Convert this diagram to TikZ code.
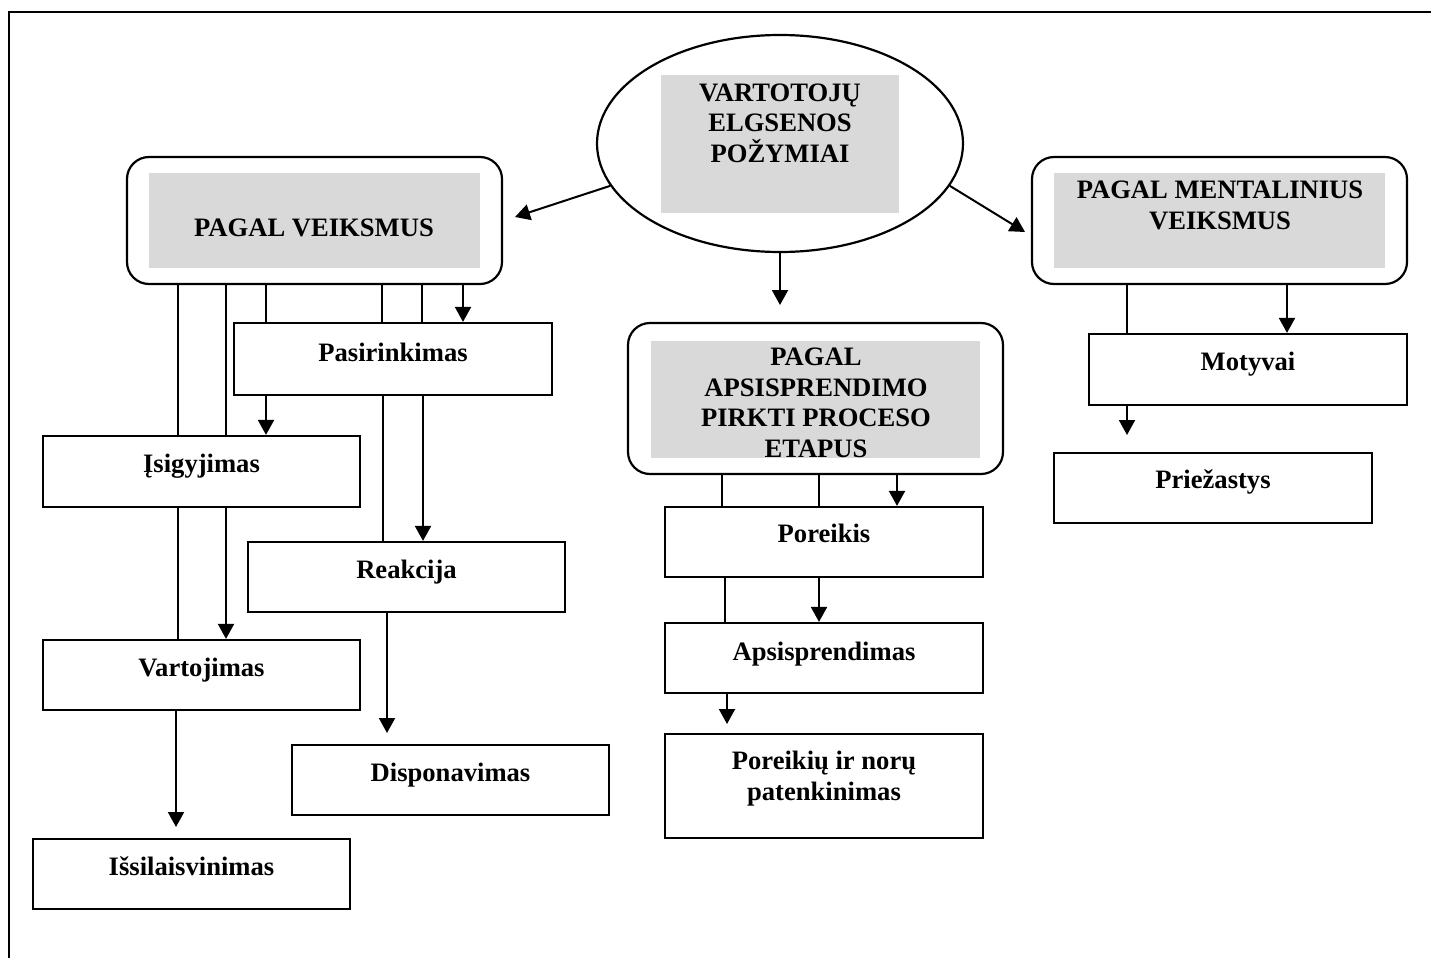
\documentclass[tikz,border=0pt]{standalone}
\usepackage{fontspec}
\setmainfont{Liberation Serif}
\usetikzlibrary{arrows.meta,shapes.geometric}
\definecolor{panelgray}{HTML}{D9D9D9}
\begin{document}
\begin{tikzpicture}[x=1pt,y=-1pt,
  conn/.style={line width=2pt},
  arr/.style={conn,-{Triangle[length=15pt,width=16pt]}},
  frame/.style={draw,line width=2.2pt,rectangle,inner sep=0pt},
  rframe/.style={frame,rounded corners=22pt},
  panel/.style={fill=panelgray},
  % for several lines, the base anchor sits on the last line
  lbl/.style={font=\bfseries\fontsize{26.6}{30.5}\selectfont,anchor=base,align=center,inner sep=0pt},
]
\useasboundingbox (0,0) rectangle (1431,958);
% page frame
\draw[line width=2.2pt] (1431,12) -- (9,12) -- (9,958);

% central ellipse
\node[ellipse,draw,line width=2.2pt,minimum width=366pt,minimum height=217pt,inner sep=0pt] (ell) at (780,143.5) {};
\fill[panel] (661,75) rectangle (899,213);
\node[lbl] (ellT) at (780,162) {VARTOTOJŲ\\ELGSENOS\\POŽYMIAI};

% three headings
\node[rframe,minimum width=375pt,minimum height=127pt] (pv) at (314.5,220.5) {};
\fill[panel] (149,173) rectangle (480,268);
\node[lbl] (pvT) at (314,236) {PAGAL VEIKSMUS};

\node[rframe,minimum width=375pt,minimum height=127pt] (ment) at (1219.5,220.5) {};
\fill[panel] (1054,173) rectangle (1385,268);
\node[lbl] (mentT) at (1220,229) {PAGAL MENTALINIUS\\VEIKSMUS};

\node[rframe,minimum width=375pt,minimum height=151pt] (mid) at (815.5,398.5) {};
\fill[panel] (651,341) rectangle (980,458);
\node[lbl] (midT) at (816,457) {PAGAL\\APSISPRENDIMO\\PIRKTI PROCESO\\ETAPUS};

% step boxes
\node[frame,minimum width=318pt,minimum height=72pt] (pas) at (393,359) {};
\node[lbl] (pasT) at (393,361) {Pasirinkimas};
\node[frame,minimum width=317pt,minimum height=71pt] (isig) at (201.5,471.5) {};
\node[lbl] (isigT) at (201.5,472) {Įsigyjimas};
\node[frame,minimum width=317pt,minimum height=70pt] (reak) at (406.5,577) {};
\node[lbl] (reakT) at (406.5,578) {Reakcija};
\node[frame,minimum width=317pt,minimum height=70pt] (vart) at (201.5,675) {};
\node[lbl] (vartT) at (201.5,676) {Vartojimas};
\node[frame,minimum width=317pt,minimum height=70pt] (disp) at (450.5,780) {};
\node[lbl] (dispT) at (450.5,781) {Disponavimas};
\node[frame,minimum width=317pt,minimum height=70pt] (issi) at (191.5,874) {};
\node[lbl] (issiT) at (191.5,875) {Išsilaisvinimas};

\node[frame,minimum width=318pt,minimum height=70pt] (por) at (824,542) {};
\node[lbl] (porT) at (824,542) {Poreikis};
\node[frame,minimum width=318pt,minimum height=70pt] (aps) at (824,658) {};
\node[lbl] (apsT) at (824,660) {Apsisprendimas};
\node[frame,minimum width=318pt,minimum height=104pt] (nor) at (824,786) {};
\node[lbl] (norT) at (824,800) {Poreikių ir norų\\patenkinimas};

\node[frame,minimum width=318pt,minimum height=71pt] (mot) at (1248,369.5) {};
\node[lbl] (motT) at (1248,370) {Motyvai};
\node[frame,minimum width=318pt,minimum height=70pt] (prie) at (1213,488) {};
\node[lbl] (prieT) at (1213,488) {Priežastys};

% free arrow ends
\coordinate (tipL) at (515,217);
\coordinate (tipR) at (1025,232);
\coordinate (tipB) at (780,305);
\coordinate (tipD) at (387,733);
\coordinate (tipI) at (176,827);
\coordinate (tipN) at (727,724);
\coordinate (tipP) at (1127,435);

% from the ellipse
\draw[arr] (ell.194) -- (tipL);
\draw[arr] (ell.-14) -- (tipR);
\draw[arr] (ell.south) -- (tipB);

% actions branch
\draw[conn] (178,0 |- pv.south) -- (178,0 |- isig.north);
\draw[conn] (226,0 |- pv.south) -- (226,0 |- isig.north);
\draw[conn] (266,0 |- pv.south) -- (266,0 |- pas.north);
\draw[conn] (382,0 |- pv.south) -- (382,0 |- pas.north);
\draw[conn] (422,0 |- pv.south) -- (422,0 |- pas.north);
\draw[arr]  (463,0 |- pv.south) -- (463,0 |- pas.north);
\draw[arr]  (266,0 |- pas.south) -- (266,0 |- isig.north);
\draw[conn] (383,0 |- pas.south) -- (383,0 |- reak.north);
\draw[arr]  (423,0 |- pas.south) -- (423,0 |- reak.north);
\draw[conn] (178,0 |- isig.south) -- (178,0 |- vart.north);
\draw[arr]  (226,0 |- isig.south) -- (226,0 |- vart.north);
\draw[arr]  (387,0 |- reak.south) -- (tipD);
\draw[arr]  (176,0 |- vart.south) -- (tipI);

% decision process branch
\draw[conn] (722,0 |- mid.south) -- (722,0 |- por.north);
\draw[conn] (819,0 |- mid.south) -- (819,0 |- por.north);
\draw[arr]  (897,0 |- mid.south) -- (897,0 |- por.north);
\draw[conn] (725,0 |- por.south) -- (725,0 |- aps.north);
\draw[arr]  (819,0 |- por.south) -- (819,0 |- aps.north);
\draw[arr]  (727,0 |- aps.south) -- (tipN);

% mental actions branch
\draw[conn] (1127,0 |- ment.south) -- (1127,0 |- mot.north);
\draw[arr]  (1287,0 |- ment.south) -- (1287,0 |- mot.north);
\draw[arr]  (1127,0 |- mot.south) -- (tipP);
\end{tikzpicture}
\end{document}
